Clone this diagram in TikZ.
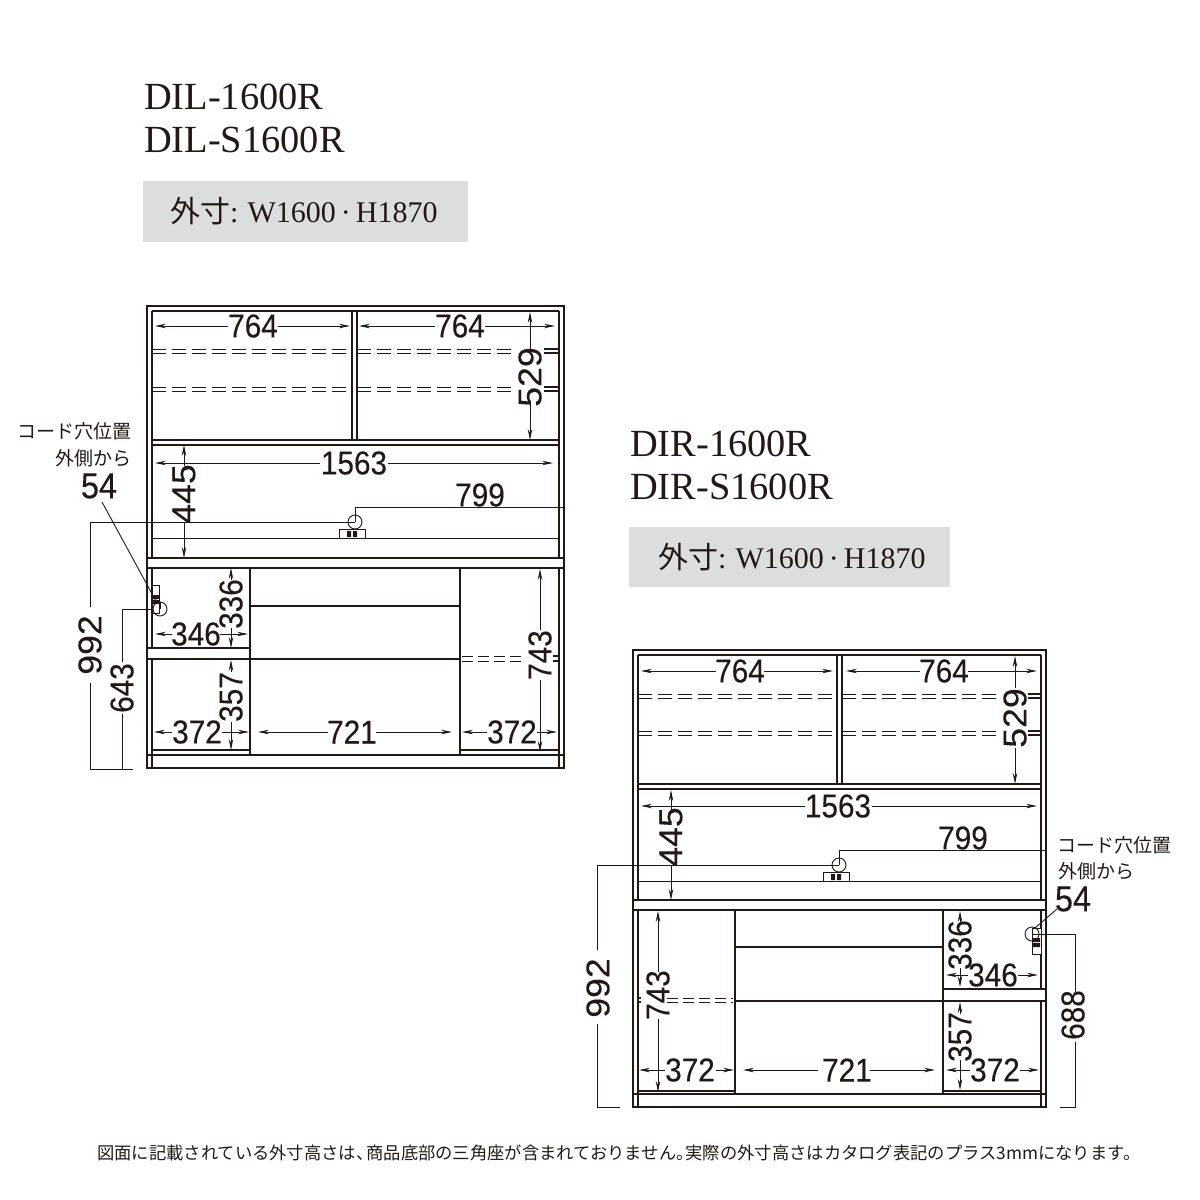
\documentclass[tikz,border=0pt]{standalone}
\usepackage{fontspec}
\usetikzlibrary{arrows.meta}
\setmainfont{Liberation Serif}
\newfontfamily\numf[FakeStretch=0.9,FakeBold=0.2]{Liberation Sans}
\newfontfamily\numw[FakeStretch=1.08,FakeBold=0.2]{Liberation Sans}
\newfontfamily\cjkf{Noto Sans CJK JP}
\definecolor{ink}{HTML}{231815}
\definecolor{band}{HTML}{DCDDDD}
\newcommand\dimV[5]{\draw[dimln] (#1,#4)--(#1,#2);\draw[dimln] (#1,#5)--(#1,#3);}
\newcommand\dimH[5]{\draw[dimln] (#4,#1)--(#2,#1);\draw[dimln] (#5,#1)--(#3,#1);}
\newcommand\bandtext{{\cjkf 外寸}:\hspace{9pt}W1600\hspace{5pt}·\hspace{5pt}H1870}
\tikzset{
  wall/.style={draw=ink,line width=1.1pt},
  thin/.style={draw=ink,line width=0.9pt},
  dimln/.style={draw=ink,line width=0.9pt,-{Stealth[length=11pt,width=4.5pt]}},
  shelfdash/.style={draw=ink,line width=1pt,dash pattern=on 14pt off 6pt},
  num/.style={text=ink,inner sep=0pt,font=\fontsize{33}{33}\numf},
  numr/.style={num,rotate=90},
  numrw/.style={text=ink,inner sep=0pt,rotate=90,font=\fontsize{33}{33}\numw},
  big/.style={text=ink,inner sep=0pt,font=\fontsize{36}{36}\numf},
  cjklab/.style={text=ink,inner sep=0pt,font=\fontsize{19}{19}\cjkf},
  title/.style={text=ink,inner sep=0pt,anchor=base west,font=\fontsize{38.4}{38}\selectfont},
  bandtxt/.style={text=ink,inner sep=0pt,anchor=base west,font=\fontsize{30}{30}\selectfont},
}
\begin{document}
\begin{tikzpicture}[x=1pt,y=-1pt]
\useasboundingbox (0,0) rectangle (1200,1200);
\fill[white] (0,0) rectangle (1200,1200);
% titles
\node[title] (t1) at (144,109) {DIL-1600R};
\node[title] (t2) at (144,152.5) {DIL-S1600R};
\node[title] (t3) at (630,456) {DIR-1600R};
\node[title] (t4) at (630,499) {DIR-S1600R};
\fill[band] (143,181) rectangle (468,242);
\fill[band] (629,527) rectangle (950,587);
\node[bandtxt] (b1) at (170,222) {\bandtext};
\node[bandtxt] (b2) at (658,568) {\bandtext};
% ---------- left cabinet
\draw[wall] (147,306) rectangle (564,768);
\draw[wall] (152,311) -- (559,311);
\draw[wall] (152,311) -- (152,558);
\draw[wall] (559,311) -- (559,558);
\draw[wall] (352,311) -- (352,440) (357,311) -- (357,440);
\draw[wall] (152,440) -- (559,440) (152,445) -- (559,445);
\foreach \y in {349,353,387,391}{
  \draw[shelfdash] (152,\y) -- (352,\y);
  \draw[shelfdash] (357,\y) -- (514,\y);
  \draw[wall] (544,\y) -- (559,\y);
}
\draw[thin] (152,538) -- (339,538) (365,538) -- (559,538);
\draw[wall,fill=white] (147,558) rectangle (564,568);
\draw[line width=1.7pt,ink] (147,558) -- (407,558);
\draw[line width=1.7pt,ink] (147,568) -- (564,568);
\draw[wall] (152,568) -- (152,648) (152,659) -- (152,768);
\draw[wall] (559,568) -- (559,768);
\draw[wall] (250,568) -- (250,755) (460,568) -- (460,755);
\draw[wall] (250,606) -- (460,606) (147,648) -- (250,648) (147,659) -- (460,659);
\draw[wall] (152,750) -- (250,750) (460,750) -- (559,750);
\draw[line width=1.5pt,ink] (147,755) -- (564,755);
\foreach \y in {656,661}{
  \draw[draw=ink,line width=1pt,dash pattern=on 11pt off 5pt] (462,\y) -- (522,\y);
  \draw[wall] (553,\y) -- (559,\y);
}
% dims left
\dimH{326}{155}{350}{228}{278}
\dimH{326}{359}{555}{435}{485}
\dimV{530}{312}{440}{352}{402}
\dimH{463}{155}{553}{320}{388}
\dimV{184}{445}{558}{466}{522}
\dimV{231}{568}{648}{580}{628}
\dimH{634}{155}{248}{172}{220}
\dimV{231}{660}{750}{672}{722}
\dimH{732}{154}{249}{172}{222}
\dimH{732}{258}{452}{328}{376}
\dimH{732}{462}{557}{487}{537}
\dimV{540}{569}{752}{630}{680}
% cord holes left
\draw[thin] (339,529) rectangle (365,538);
\fill[ink] (347,531) rectangle (351,537) (353,531) rectangle (357,537);
\draw[thin] (355,522) circle (7);
\draw[thin] (355,522) -- (355,507) -- (563,507);
\draw[thin] (355,522) -- (90,522) -- (90,607);
\draw[thin] (90,683) -- (90,769) -- (133,769);
\draw[thin] (160,609) -- (122,609) -- (122,662);
\draw[thin] (122,714) -- (122,769);
\draw[thin,fill=white] (152,585) rectangle (159,613);
\fill[ink] (153,595) rectangle (159,599) (153,600) rectangle (159,604);
\draw[thin] (160,609) circle (7);
\draw[thin] (160,609) -- (160,602);
\draw[thin] (102,502) -- (157,603);
\node[num] (n1) at (253,326) {764};
\node[num] (n2) at (460,326) {764};
\node[numrw] (n3) at (530,377) {529};
\node[num] (n4) at (354,463) {1563};
\node[num] (n5) at (480,495) {799};
\node[numrw] (n6) at (184,494) {445};
\node[numr] (n7) at (231,604) {336};
\node[num] (n8) at (196,634) {346};
\node[numr] (n9) at (231,697) {357};
\node[num] (n10) at (197,732) {372};
\node[num] (n11) at (352,732) {721};
\node[num] (n12) at (512,732) {372};
\node[numr] (n13) at (540,655) {743};
\node[numrw] (n14) at (90,645) {992};
\node[numr] (n15) at (122,688) {643};
\node[cjklab,anchor=east] (c1) at (132,431) {コード穴位置};
\node[cjklab,anchor=east] (c2) at (132,458) {外側から};
\node[big] (c3) at (99,486) {54};
% ---------- right cabinet
\draw[wall] (633,650) rectangle (1046,1107);
\draw[wall] (638,655) -- (1041,655);
\draw[wall] (638,655) -- (638,900);
\draw[wall] (1041,655) -- (1041,900);
\draw[wall] (837,655) -- (837,784) (842,655) -- (842,784);
\draw[wall] (638,784) -- (1041,784) (638,789) -- (1041,789);
\foreach \y in {694,698,731,735}{
  \draw[shelfdash] (638,\y) -- (837,\y);
  \draw[shelfdash] (842,\y) -- (998,\y);
  \draw[wall] (1028,\y) -- (1041,\y);
}
\draw[thin] (638,881) -- (823,881) (849,881) -- (1041,881);
\draw[wall,fill=white] (633,900) rectangle (1046,910);
\draw[line width=1.7pt,ink] (787,900) -- (1046,900);
\draw[line width=1.7pt,ink] (633,910) -- (1046,910);
\draw[wall] (638,910) -- (638,1107);
\draw[wall] (1041,910) -- (1041,989) (1041,1001) -- (1041,1107);
\draw[wall] (735,910) -- (735,1094) (943,910) -- (943,1094);
\draw[wall] (735,947) -- (943,947) (943,989) -- (1046,989) (735,1001) -- (1046,1001);
\draw[wall] (638,1091) -- (735,1091) (943,1091) -- (1041,1091);
\draw[line width=1.5pt,ink] (633,1094) -- (1046,1094);
\foreach \y in {998,1002}{
  \draw[draw=ink,line width=1pt,dash pattern=on 11pt off 5pt] (667,\y) -- (733,\y);
  \draw[wall] (638,\y) -- (641,\y);
}
% dims right
\dimH{671}{641}{833}{716}{764}
\dimH{671}{846}{1037}{920}{968}
\dimV{1015}{656}{784}{688}{748}
\dimH{806}{641}{1037}{805}{872}
\dimV{671}{790}{900}{810}{866}
\dimV{658}{911}{1092}{972}{1019}
\dimH{1070}{639}{734}{665}{716}
\dimH{1070}{743}{935}{818}{870}
\dimV{960}{911}{987}{922}{968}
\dimH{975}{946}{1038}{968}{1018}
\dimV{960}{1002}{1090}{1014}{1060}
\dimH{1070}{946}{1039}{970}{1020}
% cord holes right
\draw[thin] (823,872) rectangle (849,881);
\fill[ink] (831,874) rectangle (835,880) (837,874) rectangle (841,880);
\draw[thin] (839,865) circle (7);
\draw[thin] (839,865) -- (839,850) -- (1046,850);
\draw[thin] (839,865) -- (597,865) -- (597,950);
\draw[thin] (597,1024) -- (597,1107) -- (620,1107);
\draw[thin,fill=white] (1032,928) rectangle (1041,954);
\fill[ink] (1033,938) rectangle (1040,942) (1033,943) rectangle (1040,947);
\draw[thin] (1032,934) -- (1075,934) -- (1075,992);
\draw[thin] (1075,1042) -- (1075,1107) -- (1060,1107);
\draw[thin] (1032,934) circle (7);
\draw[thin] (1057,909) -- (1035,928);
\node[num] (m1) at (740,671) {764};
\node[num] (m2) at (944,671) {764};
\node[numrw] (m3) at (1015,718) {529};
\node[num] (m4) at (838,806) {1563};
\node[num] (m5) at (963,838) {799};
\node[numrw] (m6) at (671,837) {445};
\node[numr] (m7) at (960,945) {336};
\node[num] (m8) at (993,975) {346};
\node[numr] (m9) at (960,1037) {357};
\node[num] (m10) at (690,1070) {372};
\node[num] (m11) at (847,1070) {721};
\node[num] (m12) at (995,1070) {372};
\node[numr] (m13) at (658,995) {743};
\node[numrw] (m14) at (598,988) {992};
\node[numr] (m15) at (1073,1015) {688};
\node[cjklab,anchor=west] (d1) at (1057,845) {コード穴位置};
\node[cjklab,anchor=west] (d2) at (1058,871) {外側から};
\node[big] (d3) at (1073,899) {54};
% footer
\node[text=ink,inner sep=0pt,anchor=west,font=\fontsize{17.3}{17}\cjkf] (foot) at (97,1153) {図面に記載されている外寸高さは、\hspace{-7pt}商品底部の三角座が含まれておりません。\hspace{-8pt}実際の外寸高さはカタログ表記のプラス3mmになります。};
\end{tikzpicture}
\end{document}
